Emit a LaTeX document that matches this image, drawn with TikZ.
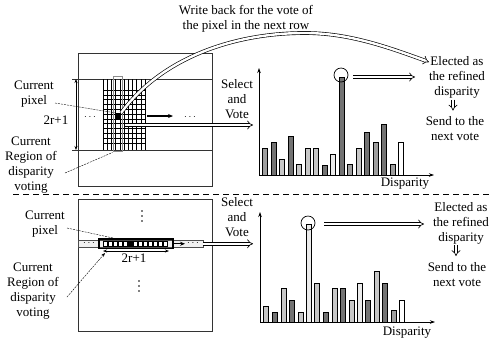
\documentclass[tikz,border=0pt]{standalone}
\usepackage{fontspec}
\setmainfont{Liberation Serif}
\usetikzlibrary{arrows.meta}
\begin{document}
\begin{tikzpicture}[x=1pt,y=-1pt,
  lbl/.style={font=\fontsize{13}{15}\selectfont, align=center, inner sep=0pt},
  dotlbl/.style={font=\fontsize{10}{12}\selectfont, inner sep=0pt},
  dbl/.style={draw=black, line width=0.65pt, double=white, double distance=2.4pt},
  dbltip/.style={dbl, -{Implies[scale=1.3]}},
  boxline/.style={draw=black!80, line width=0.6pt},
  gridline/.style={draw=black, line width=0.5pt},
  bar/.style={draw=black, line width=0.6pt},
  lead/.style={draw=black, line width=0.4pt, dash pattern=on 2pt off 1pt},
  axis/.style={draw=black, line width=0.7pt, -{Stealth[length=5pt,width=3.5pt]}},
  dimarrow/.style={draw=black, line width=0.6pt, {Stealth[length=4pt,width=3pt]}-{Stealth[length=4pt,width=3pt]}},
  thickarrow/.style={draw=black, line width=1.4pt, -{Stealth[length=5pt,width=4pt]}},
  peak/.style={draw=black, line width=0.7pt, circle, minimum size=14pt, inner sep=0pt},
  sep/.style={draw=black, line width=0.6pt, dash pattern=on 6pt off 4pt},
  vdot/.style={fill=black, circle, inner sep=0pt, minimum size=1.7pt}
]
\useasboundingbox (0,0) rectangle (489,341);
\colorlet{cD}{black!55}
\colorlet{cM}{black!38}
\colorlet{cL}{black!22}
\colorlet{cV}{black!8}

% ================= TOP =================
\draw[boxline] (78,53) rectangle (212,186);
\draw[boxline] (72,79) -- (212,79);
\draw[boxline] (72,150) -- (212,150);
\foreach \i in {0,...,10} \draw[gridline] ({103+4.2*\i},79) -- ({103+4.2*\i},150);
\foreach \j in {0,...,11} \draw[gridline] (103,{90+4.8*\j}) -- (145,{90+4.8*\j});
\node[draw=black!80, line width=1.9pt, minimum width=9pt, minimum height=75pt, inner sep=0pt] (regA) at (118,114) {};
\node[draw=black!45, line width=0.8pt, minimum width=9pt, minimum height=75pt, inner sep=0pt] (regAin) at (118,114) {};
\node[fill=black, minimum size=6pt, inner sep=0pt] (pixA) at (118,116) {};
\coordinate (dimAt) at (76,79);
\coordinate (dimAb) at (76,150);
\draw[dimarrow] (dimAt) -- (dimAb);
\node[dotlbl] (dotsA1) at (90,117) {$\cdots$};
\node[dotlbl] (dotsA2) at (190,117) {$\cdots$};
\coordinate (thA1) at (147,116);
\coordinate (thA2) at (173,116);
\draw[thickarrow] (thA1) -- (thA2);

% labels left
\node[lbl] (curpixA) at (34,94) {Current\\pixel};
\node[lbl] (twoA) at (56,120) {2r+1};
\node[lbl] (regionA) at (31,165) {Current\\Region of\\disparity\\voting};
\draw[lead] (55,103) -- (pixA.north west);
\draw[lead] (65,173) -- (regA.south west);

% title
\node[lbl] (writeback) at (246,18.5) {Write back for the vote of\\the pixel in the next row};

% histogram top
\coordinate (oA) at (259,175);
\coordinate (yA) at (259,68);
\coordinate (xA) at (434,175);
\draw[axis] (oA) -- (yA);
\draw[axis] (oA) -- (xA);
\node[lbl] (dispA) at (405,184) {Disparity};
\foreach \x/\h/\c in {262/148/cM,271/142/cD,279/159/cL,288/136/cD,296/164/cL,305/148/cL,313/148/cL,322/165/cD,330/154/cV,339/77/cD,347/164/cM,356/148/cL,364/132/cD,373/142/cM,381/124/cD,390/164/cM,398/142/white}
  \draw[bar, fill=\c] (\x,175) rectangle ({\x+5},\h);
\node[peak] (peakA) at (341,75) {};

\node[lbl] (selA) at (237,99) {Select\\and\\Vote};
\node[lbl] (electA) at (457,77.5) {Elected as\\the refined\\disparity};
\node[lbl] (sendA) at (455,128.5) {Send to the\\next vote};

% double connectors top
\coordinate (hA1) at (125,125);
\coordinate (hA2) at (253,125);
\draw[dbltip] (hA1) -- (hA2);
\coordinate (pkA1) at (353,77);
\coordinate (pkA2) at (415,77);
\draw[dbltip] (pkA1) -- (pkA2);
\draw[dbltip] (electA.south) ++(-4,1) coordinate (dnA1) -- ++(0,11) coordinate (dnA2);
\draw[dbltip] (pixA.north east) .. controls (160,60) and (230,33) .. (305,33) .. controls (350,33) and (390,48) .. (429,62);

% separator
\coordinate (sepL) at (13,194.5);
\coordinate (sepR) at (489,194.5);
\draw[sep] (sepL) -- (sepR);

% ================= BOTTOM =================
\draw[boxline] (78,199) rectangle (212,331);
\draw[draw=black!70, line width=0.5pt, fill=black!6] (78,240.5) rectangle (203,247);
\node[dotlbl] (dotsB1) at (89,243.5) {$\cdots$};
\node[dotlbl] (dotsB2) at (193,243.5) {$\cdots$};
\foreach \d in {0,1,2} {
  \node[vdot] (vdB1\d) at (142,{211+5*\d}) {};
  \node[vdot] (vdB2\d) at (139,{281+5*\d}) {};
}
\node[draw=black, line width=1.5pt, minimum width=74pt, minimum height=9.5pt, inner sep=0pt] (regB) at (136,243.75) {};
\foreach \k in {0,...,12} \draw[line width=0.5pt, fill=white] ({103+5*\k},241.2) rectangle ({107.5+5*\k},246.3);
\node[fill=black, minimum width=5pt, minimum height=6pt, inner sep=0pt] (pixB) at (130.5,243.75) {};
\coordinate (thB2) at (185,243.75);
\draw[thickarrow, line width=1.2pt] (regB.east) -- (thB2);
\coordinate (dimBl) at (103,251);
\coordinate (dimBr) at (169,251);
\draw[dimarrow] (dimBl) -- (dimBr);
\node[lbl] (twoB) at (134,258) {2r+1};

\node[lbl] (curpixB) at (45,224.5) {Current\\pixel};
\node[lbl] (regionB) at (33,291.5) {Current\\Region of\\disparity\\voting};
\draw[lead] (67,228) -- (120,239.5);
\draw[lead, -{Stealth[length=4pt,width=3pt]}] (67,297) -- (105,253);

% histogram bottom
\coordinate (oB) at (260,322);
\coordinate (yB) at (260,212);
\coordinate (xB) at (435,322);
\draw[axis] (oB) -- (yB);
\draw[axis] (oB) -- (xB);
\node[lbl] (dispB) at (407,333) {Disparity};
\foreach \x/\h/\c in {263/306/cL,272/312/cD,281/288/cL,289/300/cD,298/312/cL,306/224/cV,314/283/cL,323/312/cD,332/288/cL,340/288/cD,349/300/cL,357/283/cV,365/300/cD,374/271/cL,382/283/cD,391/310/cM,399/300/white}
  \draw[bar, fill=\c] (\x,322) rectangle ({\x+5},\h);
\node[peak] (peakB) at (308,223) {};

\node[lbl] (selB) at (237,217.5) {Select\\and\\Vote};
\node[lbl] (electB) at (461,223) {Elected as\\the refined\\disparity};
\node[lbl] (sendB) at (457,274.5) {Send to the\\next vote};

\coordinate (hB1) at (203,243.75);
\coordinate (hB2) at (253,243.75);
\draw[dbltip] (hB1) -- (hB2);
\coordinate (pkB1) at (324,224);
\coordinate (pkB2) at (424,224);
\draw[dbltip] (pkB1) -- (pkB2);
\draw[dbltip] (electB.south) ++(-5,1) coordinate (dnB1) -- ++(0,11) coordinate (dnB2);
\end{tikzpicture}
\end{document}
